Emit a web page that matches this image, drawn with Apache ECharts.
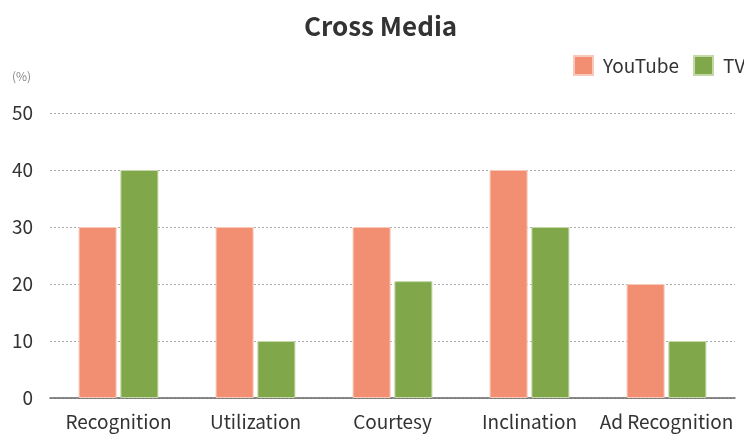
<!DOCTYPE html>
<html><head><meta charset="utf-8">
<script src="https://cdn.jsdelivr.net/npm/echarts@6/dist/echarts.min.js"></script>
<style>html,body{margin:0;padding:0;background:#fff}#c{width:744px;height:435px}</style>
</head><body><div id="c"></div>
<script>
const categories = ['Recognition','Utilization','Courtesy','Inclination','Ad Recognition'];
const youtube = [30, 30, 30, 40, 20];
const tv = [40, 10, 20.5, 30, 10];
const yTicks = [0, 10, 20, 30, 40, 50];
const font = '"Noto Sans CJK JP","Noto Sans",sans-serif';
const chart = echarts.init(document.getElementById('c'));
chart.setOption({
  animation: false,
  title: {text: 'Cross Media', left: 299, top: 8,
    textStyle: {fontFamily: font, fontSize: 26, fontWeight: 'bold', color: '#333'}},
  legend: {left: 568, top: 50, width: 400, itemWidth: 19, itemHeight: 19, itemGap: 14, icon: 'rect',
    textStyle: {fontFamily: font, fontSize: 19, color: '#333', padding: [0, 0, 0, 5]},
    data: ['YouTube', 'TV']},
  graphic: [{type: 'text', left: 12, top: 70, style: {text: '(%)', font: '12px ' + font, fill: '#888'}}],
  grid: {left: 50, right: 9, top: 113, bottom: 37, containLabel: false},
  xAxis: {type: 'category', data: categories,
    axisLine: {lineStyle: {color: '#666', width: 1.5}}, axisTick: {show: false},
    axisLabel: {fontFamily: font, fontSize: 19, color: '#333', margin: 14, interval: 0}},
  yAxis: {type: 'value', min: yTicks[0], max: yTicks[yTicks.length-1], interval: 10,
    axisLine: {show: false}, axisTick: {show: false},
    axisLabel: {fontFamily: font, fontSize: 19, color: '#333', margin: 17},
    splitLine: {lineStyle: {color: '#aaa', type: [2, 2], width: 1}}},
  series: [
    {name: 'YouTube', type: 'bar', data: youtube, barWidth: 38, barGap: '10%',
      itemStyle: {color: '#F28F73', borderColor: '#F8C8B8', borderWidth: 1}},
    {name: 'TV', type: 'bar', data: tv, barWidth: 38,
      itemStyle: {color: '#80A84B', borderColor: '#C4D8A8', borderWidth: 1}}
  ]
});
</script></body></html>
